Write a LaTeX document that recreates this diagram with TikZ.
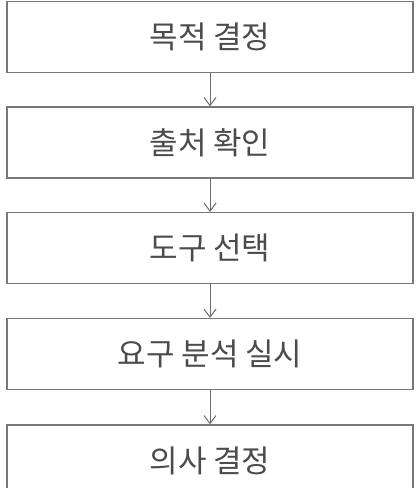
\documentclass[tikz,border=0pt]{standalone}
\usepackage{fontspec}
\newfontfamily\kr{Noto Sans CJK KR}
\usetikzlibrary{arrows.meta}
\definecolor{edge}{RGB}{120,120,120}
\definecolor{txt}{RGB}{75,75,75}
\begin{document}
\begin{tikzpicture}[x=1pt,y=1pt,
  stepbox/.style={draw=edge, line width=1.3pt, minimum width=406pt, minimum height=71pt,
    inner sep=0pt, font=\kr\fontsize{31}{36}\selectfont, text=txt},
  conn/.style={draw=edge!90!black, line width=1pt, -{Straight Barb[length=8pt,width=12pt,line width=1pt]}}]
\useasboundingbox (0,0) rectangle (419,-488);
\clip (0,0) rectangle (419,-488);
\node[stepbox] (b1) at (210,-37) {목적 결정};
\node[stepbox] (b2) at (210,-142.5) {출처 확인};
\node[stepbox] (b3) at (210,-248) {도구 선택};
\node[stepbox] (b4) at (210,-354) {요구 분석 실시};
\node[stepbox] (b5) at (210,-460.5) {의사 결정};
\draw[conn] (b1) -- (b2);
\draw[conn] (b2) -- (b3);
\draw[conn] (b3) -- (b4);
\draw[conn] (b4) -- (b5);
\end{tikzpicture}
\end{document}
